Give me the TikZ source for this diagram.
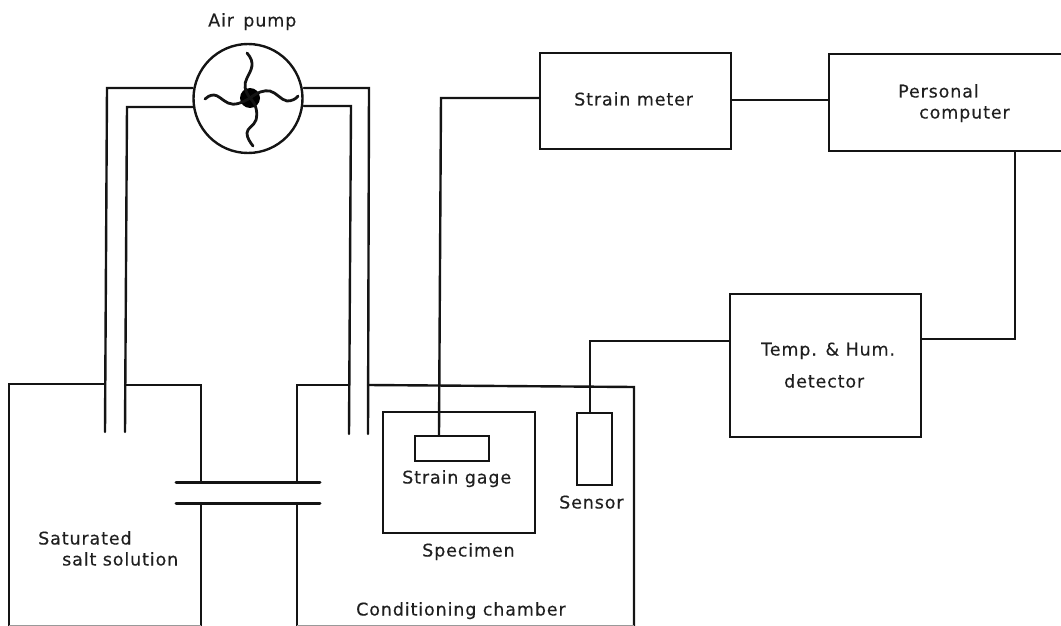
\documentclass[tikz,border=0pt]{standalone}
\usepackage{fontspec}
\setmainfont[LetterSpace=5,FakeBold=0.25]{DejaVu Sans}
\tikzset{
  ln/.style={draw=black!92,line width=2.4pt,line cap=round,line join=miter},
  boxn/.style={ln,rectangle,inner sep=0pt,anchor=north west},
  lbl/.style={font=\fontsize{17.5pt}{20pt}\selectfont,text=black!88,inner sep=0pt,anchor=west,text height=13pt,text depth=0pt}
}
\begin{document}
\begin{tikzpicture}[x=1pt,y=-1pt]
\useasboundingbox (0,0) rectangle (1061,626);
% boxes
\node[boxn,minimum width=191pt,minimum height=96pt] (meter) at (539,52) {};
\node[boxn,minimum width=240pt,minimum height=97pt] (pc) at (828,53) {};
\node[boxn,minimum width=191pt,minimum height=143pt] (det) at (729,293) {};
\node[boxn,minimum width=152pt,minimum height=121pt] (spec) at (382,411) {};
\node[boxn,minimum width=74pt,minimum height=25pt] (gage) at (414,435) {};
\node[boxn,minimum width=35pt,minimum height=72pt] (sens) at (576,412) {};
\node[ln,circle,inner sep=0pt,minimum size=109pt] (pump) at (248,98.5) {};
\node[circle,fill=black,inner sep=0pt,minimum size=20pt] (hub) at (250,98) {};
% impeller
\draw[ln,line width=2.8pt] (hub.center) .. controls (244,90) and (244,84) .. (247,78) .. controls (251,70) and (256,63) .. (247,53);
\draw[ln,line width=2.8pt] (hub.center) .. controls (258,92) and (264,90) .. (270,91) .. controls (277,93) and (281,100) .. (287,101) .. controls (292,101) and (296,99) .. (298,96);
\draw[ln,line width=2.8pt] (hub.center) .. controls (256,104) and (258,112) .. (256,120) .. controls (254,126) and (247,128) .. (247,133) .. controls (247,138) and (250,142) .. (253,146);
\draw[ln,line width=2.8pt] (hub.center) .. controls (242,103) and (234,106) .. (228,103) .. controls (222,100) and (218,95) .. (214,95) .. controls (210,95) and (207,97) .. (205,99);
% tubes
\coordinate (a1) at (105,432); \coordinate (a2) at (125,432);
\coordinate (b1) at (349,434); \coordinate (b2) at (368,434);
\draw[ln] (a1) -- (107,88) -- (pump.west |- 0,88);
\draw[ln] (a2) -- (127,107) -- (pump.west |- 0,107);
\draw[ln] (b2) -- (369,88) -- (pump.east |- 0,88);
\draw[ln] (b1) -- (351,106) -- (pump.east |- 0,106);
% tank
\draw[ln] (105,384) -- (9,384) -- (9,626);
\draw[ln] (125,385) -- (201,385) -- (201,482);
\draw[ln] (201,503) -- (201,626);
% chamber
\draw[ln] (349,385) -- (297,385) -- (297,482);
\draw[ln] (297,503) -- (297,626);
\draw[ln] (368,385) -- (634,387) -- (634,626);
% bottom edges, faint
\draw[draw=black!40,line width=1pt] (9,625.5) -- (201,625.5);
\draw[draw=black!40,line width=1pt] (297,625.5) -- (634,625.5);
% link pipes
\draw[ln,line width=3pt] (176,482) -- (320,482);
\draw[ln,line width=3pt] (176,503) -- (320,503);
% wires
\draw[ln] (gage.north -| 439,0) -- (441,98) -- (meter.west |- 0,98);
\draw[ln] (meter.east |- 0,100) -- (pc.west |- 0,100);
\draw[ln] (pc.south -| 1015,0) -- (1015,339) -- (det.east |- 0,339);
\draw[ln] (sens.north -| 590,0) -- (590,341) -- (det.west |- 0,341);
% labels
\node[lbl] (t1) at (208,20) {Air \,pump};
\node[lbl] (t2) at (574,99) {Strain meter};
\node[lbl] (t3) at (898,91) {Personal};
\node[lbl] (t4) at (919,112) {computer};
\node[lbl] (t5) at (761,349) {Temp. \& Hum.};
\node[lbl] (t6) at (784,381) {detector};
\node[lbl] (t7) at (402,477) {Strain gage};
\node[lbl] (t8) at (559,502) {Sensor};
\node[lbl] (t9) at (422,550) {Specimen};
\node[lbl] (t10) at (356,609) {Conditioning chamber};
\node[lbl] (t11) at (38,538) {Saturated};
\node[lbl] (t12) at (62,559) {salt solution};
\end{tikzpicture}
\end{document}
